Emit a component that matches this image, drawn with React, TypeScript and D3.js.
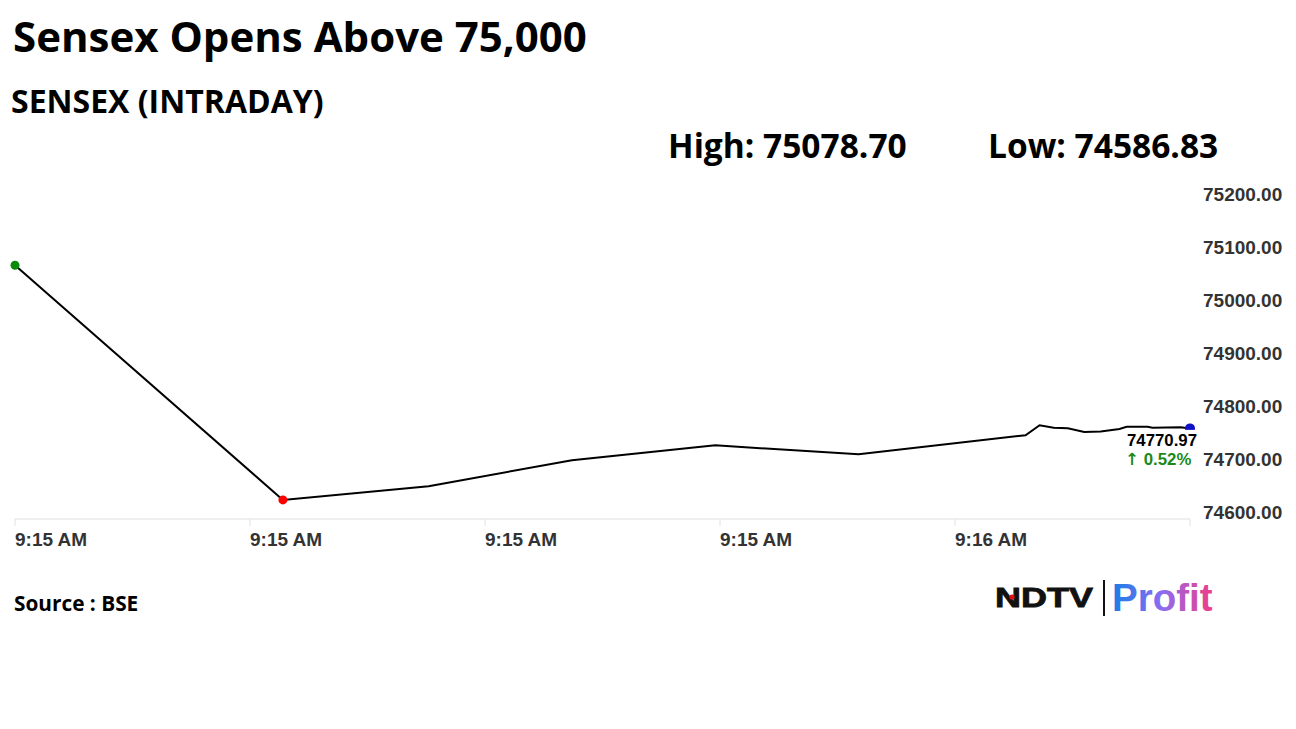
import React from "react";
import * as d3 from "d3";

// ---- data (seconds after 9:15:00, index value) ----
const timeSeconds = [20, 31.4, 37.6, 43.7, 49.8, 55.9, 63.0, 63.6, 64.2, 64.8, 65.5, 66.2, 67.0, 67.3, 68.2, 68.4, 69.6, 70];
const sensexValues = [75078.7, 74636, 74662, 74711, 74739, 74722, 74758, 74777, 74772, 74771, 74764, 74765, 74770, 74774, 74774, 74772, 74773, 74770.97];
const yTicks = [74600, 74700, 74800, 74900, 75000, 75100, 75200];
const xTickSeconds = [20, 30, 40, 50, 60, 70];
const xTickLabels = ["9:15 AM", "9:15 AM", "9:15 AM", "9:15 AM", "9:16 AM", ""];
const title = "Sensex Opens Above 75,000";
const subtitle = "SENSEX (INTRADAY)";
const highText = "High: 75078.70";
const lowText = "Low: 74586.83";
const lastValueText = "74770.97";
const changeText = "0.52%";
const sourceText = "Source : BSE";

const base = new Date(2024, 2, 1, 9, 15, 0);
const toDate = (s: number) => new Date(base.getTime() + s * 1000);

export default function App() {
  const W = 1296, H = 729;
  const x = d3.scaleTime().domain([toDate(20), toDate(70)]).range([15, 1190]);
  const y = d3.scaleLinear().domain([74600, 75200]).range([519, 201]);
  const data = timeSeconds.map((t, i) => ({ t: toDate(t), v: sensexValues[i] }));
  const line = d3.line<{ t: Date; v: number }>().x(d => x(d.t)).y(d => y(d.v));
  const first = data[0];
  const minD = data.reduce((a, b) => (b.v < a.v ? b : a));
  const last = data[data.length - 1];
  const sans = "'Open Sans', 'Noto Sans', sans-serif";
  const arial = "'Liberation Sans', Arial, sans-serif";
  return (
    <svg width={W} height={H} style={{ position: "absolute", left: 0, top: 0, background: "#fff" }}>
      <defs>
        <linearGradient id="profitGrad" x1="0" x2="1" y1="0" y2="0">
          <stop offset="0%" stopColor="#1a7ee6" />
          <stop offset="50%" stopColor="#8c6cf0" />
          <stop offset="100%" stopColor="#f23c86" />
        </linearGradient>
      </defs>
      <rect width={W} height={H} fill="#fff" />
      <text x={13} y={52} fontFamily={sans} fontWeight={700} fontSize={42} fill="#000">{title}</text>
      <text x={11} y={113} fontFamily={sans} fontWeight={700} fontSize={32} fill="#000">{subtitle}</text>
      <text x={668} y={158} fontFamily={sans} fontWeight={700} fontSize={33.5} fill="#000">{highText}</text>
      <text x={988} y={158} fontFamily={sans} fontWeight={700} fontSize={33.5} fill="#000">{lowText}</text>

      {/* x axis */}
      <line x1={15} x2={1190} y1={519} y2={519} stroke="#e0e0e0" strokeWidth={1.2} />
      {xTickSeconds.map((s, i) => (
        <g key={i}>
          <line x1={x(toDate(s))} x2={x(toDate(s))} y1={519} y2={526} stroke="#e0e0e0" />
          <text x={x(toDate(s))} y={546} fontFamily={arial} fontWeight={700} fontSize={19} fill="#333">{xTickLabels[i]}</text>
        </g>
      ))}
      {/* y axis */}
      {yTicks.map(v => (
        <text key={v} x={1203} y={y(v)} fontFamily={arial} fontWeight={700} fontSize={19} fill="#333">{v.toFixed(2)}</text>
      ))}

      <path d={line(data) || ""} fill="none" stroke="#000" strokeWidth={2} />
      <circle cx={x(first.t)} cy={y(first.v)} r={4.5} fill="#0a8a0a" />
      <circle cx={x(minD.t)} cy={y(minD.v)} r={4.5} fill="#f00" />
      <circle cx={x(last.t)} cy={y(last.v)} r={5} fill="#1010c8" />

      {/* last value label */}
      <rect x={1121} y={y(last.v) + 1.5} width={78} height={42} fill="#fff" />
      <text x={1127} y={y(last.v) + 18} fontFamily={arial} fontWeight={700} fontSize={16.8} fill="#000">{lastValueText}</text>
      <text x={1125} y={y(last.v) + 37} fontFamily={arial} fontWeight={700} fontSize={16.8} fill="#1a8a1a">
        <tspan fontFamily="'DejaVu Sans', sans-serif" fontWeight={700}>{"\u2191"}</tspan>{" " + changeText}
      </text>

      <text x={14} y={611} fontFamily={sans} fontWeight={700} fontSize={20.8} fill="#000">{sourceText}</text>

      {/* logo */}
      <text x={995} y={607} fontFamily={arial} fontWeight={900} fontSize={27} fill="#111" stroke="#111" strokeWidth={0.8} textLength={98} lengthAdjust="spacingAndGlyphs">NDTV</text>
      <circle cx={1012} cy={597} r={2.6} fill="#e01010" />
      <line x1={1104} x2={1104} y1={580} y2={616} stroke="#111" strokeWidth={2} />
      <text x={1112} y={611} fontFamily={arial} fontWeight={700} fontSize={38.5} fill="url(#profitGrad)">Profit</text>
    </svg>
  );
}
